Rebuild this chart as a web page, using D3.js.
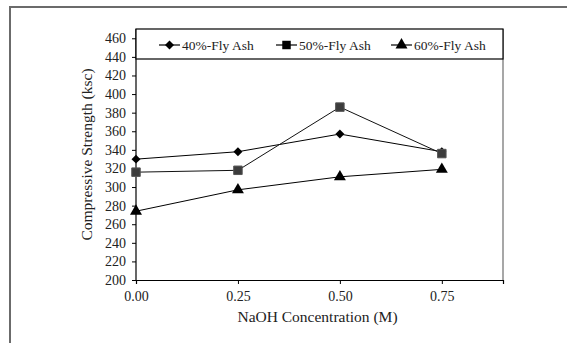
<!DOCTYPE html>
<html>
<head>
<meta charset="utf-8">
<script src="https://cdn.jsdelivr.net/npm/d3@7"></script>
<style>
  body { margin: 0; background: #fff; }
  text { font-family: "Liberation Serif", "Times New Roman", serif; fill: #222; }
</style>
</head>
<body>
<div id="chart"></div>
<script>
// values
const concentrations = [0, 0.25, 0.5, 0.75];
const xTicks = [0, 0.25, 0.5, 0.75];
const yTicks = [200, 220, 240, 260, 280, 300, 320, 340, 360, 380, 400, 420, 440, 460];
const seriesNames = ["40%-Fly Ash", "50%-Fly Ash", "60%-Fly Ash"];
const flyAsh40 = [330, 338, 357, 338];
const flyAsh50 = [316, 318, 386, 336];
const flyAsh60 = [274, 297, 311, 319];

const width = 567, height = 343;
const margin = {left: 136, right: 64, top: 29, bottom: 63};

const svg = d3.select("#chart").append("svg")
    .attr("width", width)
    .attr("height", height);

// outer frame (top and left only visible)
svg.append("path")
    .attr("d", `M10,${height} L10,7 L${width},7`)
    .attr("fill", "none")
    .attr("stroke", "#6b6b6b")
    .attr("stroke-width", 2);

const xScale = d3.scaleLinear()
    .domain([0, 0.9])
    .range([margin.left, width - margin.right]);

const yScale = d3.scaleLinear()
    .domain([200, 470])
    .range([height - margin.bottom, margin.top]);

// right border of plot
svg.append("line")
    .attr("x1", xScale(0.9)).attr("x2", xScale(0.9))
    .attr("y1", yScale(470)).attr("y2", yScale(200))
    .attr("stroke", "#8a8a8a")
    .attr("stroke-width", 1.5);

const yAxis = d3.axisLeft(yScale)
    .tickValues(yTicks)
    .tickSize(4)
    .tickPadding(6)
    .tickFormat(d3.format("d"));

const xAxis = d3.axisBottom(xScale)
    .tickValues(xTicks)
    .tickSize(4)
    .tickPadding(7)
    .tickFormat(d3.format(".2f"));

const gy = svg.append("g")
    .attr("transform", `translate(${margin.left},0)`)
    .call(yAxis);
gy.select(".domain").attr("d", `M0,${yScale(470)}V${yScale(200)}`);

const gx = svg.append("g")
    .attr("transform", `translate(0,${yScale(200)})`)
    .call(xAxis);

[gx, gy].forEach(g => {
    g.select(".domain").attr("stroke", "#000").attr("stroke-width", 1.2);
    g.selectAll(".tick line").attr("stroke", "#000");
    g.selectAll(".tick text")
        .attr("fill", "#222")
        .style("font-size", "14px")
        .style("font-family", "Liberation Serif, serif");
});

// axis titles
svg.append("text")
    .attr("x", xScale(0.45) - 2)
    .attr("y", 322)
    .attr("text-anchor", "middle")
    .style("font-size", "15.5px")
    .text("NaOH Concentration (M)");

svg.append("text")
    .attr("transform", `translate(92,${yScale(335)}) rotate(-90)`)
    .attr("text-anchor", "middle")
    .style("font-size", "15.5px")
    .text("Compressive Strength (ksc)");

// diamond as a rotated square so it is as wide as tall
const diamond = {
    draw(context, size) {
        const r = Math.sqrt(size / 2);
        context.moveTo(0, -r);
        context.lineTo(r, 0);
        context.lineTo(0, r);
        context.lineTo(-r, 0);
        context.closePath();
    }
};

// series
const series = [
    {name: seriesNames[0], values: flyAsh40, symbol: diamond, size: 40, fill: "#000", line: "#000"},
    {name: seriesNames[1], values: flyAsh50, symbol: d3.symbolSquare, size: 72, fill: "#3c3c3c", line: "#111"},
    {name: seriesNames[2], values: flyAsh60, symbol: d3.symbolTriangle, size: 62, fill: "#000", line: "#000"}
];

const line = d3.line()
    .x((d, i) => xScale(concentrations[i]))
    .y(d => yScale(d));

series.forEach(s => {
    svg.append("path")
        .datum(s.values)
        .attr("d", line)
        .attr("fill", "none")
        .attr("stroke", s.line)
        .attr("stroke-width", 1);
});

series.forEach(s => {
    svg.append("g")
        .selectAll("path")
        .data(s.values)
        .enter()
        .append("path")
            .attr("transform", (d, i) => `translate(${xScale(concentrations[i])},${yScale(d)})`)
            .attr("d", d3.symbol().type(s.symbol).size(s.size))
            .attr("fill", s.fill)
            .attr("stroke", s.symbol === d3.symbolSquare ? "#555" : "none")
            .attr("stroke-width", 1);
});

// legend box across top of plot
const legendBottom = 59;
svg.append("rect")
    .attr("x", margin.left)
    .attr("y", margin.top)
    .attr("width", xScale(0.9) - margin.left)
    .attr("height", legendBottom - margin.top)
    .attr("fill", "#fff")
    .attr("stroke", "#000")
    .attr("stroke-width", 1.2);

const legendX = [159, 276, 391];
const legendY = 45;
series.forEach((s, i) => {
    const g = svg.append("g").attr("transform", `translate(${legendX[i]},${legendY})`);
    g.append("line")
        .attr("x1", 0).attr("x2", 21)
        .attr("stroke", "#000").attr("stroke-width", 1.2);
    g.append("path")
        .attr("transform", "translate(10.5,0)")
        .attr("d", d3.symbol().type(s.symbol).size(s.size))
        .attr("fill", "#000");
    g.append("text")
        .attr("x", 23)
        .attr("y", 4.5)
        .style("font-size", "13.5px")
        .text(s.name);
});
</script>
</body>
</html>
